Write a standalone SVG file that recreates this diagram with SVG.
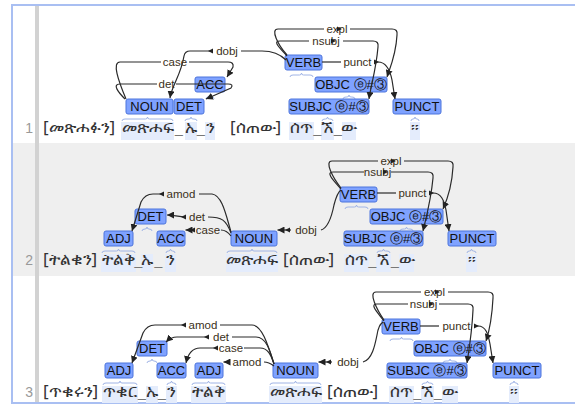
<svg xmlns="http://www.w3.org/2000/svg" xmlns:xlink="http://www.w3.org/1999/xlink" width="575" height="405" viewBox="0 0 575 405">
<style>
.frame{fill:none;stroke:#a9bff2;stroke-width:2}
.gut{fill:#d2d2d2}
.num{font-family:'Liberation Sans',Arial,sans-serif;font-size:14px;fill:#999;text-anchor:end}
.tok{font-family:'Noto Sans','DejaVu Sans',sans-serif;font-size:17px;fill:#333;text-anchor:middle}
.tokl{font-family:'Noto Sans','DejaVu Sans',sans-serif;font-size:17px;fill:#333}
.us{font-family:'Liberation Sans',sans-serif;font-size:14px;fill:#777;text-anchor:middle}
.tbg{fill:#e4ecfc}
.brace{fill:none;stroke:#a0b4e6;stroke-width:1}
.node rect{fill:#7fa2ff;stroke:#4d74dc;stroke-width:1}
.node text{font-family:'Liberation Sans',Arial,sans-serif;font-size:13px;fill:#111;text-anchor:middle}
.arc{fill:none;stroke:#2a2a2a;stroke-width:1.2}
.lbl{font-family:'Liberation Sans',Arial,sans-serif;font-size:11.5px;fill:#3a3020;text-anchor:middle}
.lm{fill:#222}
</style>
<defs>
<marker id="ah" markerUnits="userSpaceOnUse" markerWidth="8" markerHeight="7" refX="7" refY="3.5" orient="auto"><path d="M0,0 L7,3.5 L0,7 z" fill="#222"/></marker>
<path id="tl" d="M0,0 L5,-2.6 L5,2.6 z"/>
<path id="tr" d="M0,0 L-5,-2.6 L-5,2.6 z"/>
</defs>

<g id="background">
<rect x="12" y="143" width="563" height="133" fill="#efefef"/>
<rect class="gut" x="35" y="5" width="4" height="398"/>
<path class="frame" d="M575,5 H12 V403 H575"/>
</g>

<g id="tokens">
<text class="num" x="33" y="133">1</text>
<text class="num" x="33" y="265">2</text>
<text class="num" x="33" y="397">3</text>
<rect class="tbg" x="121" y="122" width="53" height="18"/>
<rect class="tbg" x="185" y="122" width="12" height="18"/>
<rect class="tbg" x="205" y="122" width="10" height="18"/>
<rect class="tbg" x="289" y="122" width="25" height="18"/>
<rect class="tbg" x="321" y="122" width="13" height="18"/>
<rect class="tbg" x="342" y="122" width="14" height="18"/>
<rect class="tbg" x="410" y="122" width="10" height="18"/>
<text class="tokl" x="43" y="133">[መጽሐፉን]</text>
<text class="tok" x="147.5" y="133">መጽሐፍ</text>
<text class="us" x="179" y="133">_</text>
<text class="tok" x="191" y="133">ኡ</text>
<text class="us" x="201" y="133">_</text>
<text class="tok" x="210" y="133">ን</text>
<text class="tokl" x="230" y="133">[ሰጠው]</text>
<text class="tok" x="301.5" y="133">ሰጥ</text>
<text class="us" x="317.5" y="133">_</text>
<text class="tok" x="327.5" y="133">ኧ</text>
<text class="us" x="338" y="133">_</text>
<text class="tok" x="349" y="133">ው</text>
<text class="tok" x="415" y="133">።</text>

<rect class="tbg" x="101" y="254" width="35" height="18"/>
<rect class="tbg" x="141" y="254" width="12" height="18"/>
<rect class="tbg" x="165" y="254" width="11" height="18"/>
<rect class="tbg" x="226" y="254" width="52" height="18"/>
<rect class="tbg" x="344" y="254" width="25" height="18"/>
<rect class="tbg" x="376" y="254" width="15" height="18"/>
<rect class="tbg" x="399" y="254" width="15" height="18"/>
<rect class="tbg" x="466" y="254" width="11" height="18"/>
<text class="tokl" x="43" y="265">[ትልቁን]</text>
<text class="tok" x="118.5" y="265">ትልቅ</text>
<text class="us" x="138.5" y="265">_</text>
<text class="tok" x="147" y="265">ኡ</text>
<text class="us" x="158.5" y="265">_</text>
<text class="tok" x="170.5" y="265">ን</text>
<text class="tok" x="252" y="265">መጽሐፍ</text>
<text class="tokl" x="283" y="265">[ሰጠው]</text>
<text class="tok" x="356.5" y="265">ሰጥ</text>
<text class="us" x="372.5" y="265">_</text>
<text class="tok" x="383.5" y="265">ኧ</text>
<text class="us" x="395" y="265">_</text>
<text class="tok" x="406.5" y="265">ው</text>
<text class="tok" x="471.5" y="265">።</text>

<rect class="tbg" x="102" y="386" width="36" height="17"/>
<rect class="tbg" x="146" y="386" width="12" height="17"/>
<rect class="tbg" x="166" y="386" width="11" height="17"/>
<rect class="tbg" x="191" y="386" width="35" height="17"/>
<rect class="tbg" x="269" y="386" width="53" height="17"/>
<rect class="tbg" x="389" y="386" width="25" height="17"/>
<rect class="tbg" x="421" y="386" width="13" height="17"/>
<rect class="tbg" x="442" y="386" width="16" height="17"/>
<rect class="tbg" x="509" y="386" width="10" height="17"/>
<text class="tokl" x="43" y="397">[ጥቁሩን]</text>
<text class="tok" x="120" y="397">ጥቁር</text>
<text class="us" x="142" y="397">_</text>
<text class="tok" x="152" y="397">ኡ</text>
<text class="us" x="162" y="397">_</text>
<text class="tok" x="171.5" y="397">ን</text>
<text class="tok" x="208.5" y="397">ትልቅ</text>
<text class="tok" x="295.5" y="397">መጽሐፍ</text>
<text class="tokl" x="327" y="397">[ሰጠው]</text>
<text class="tok" x="401.5" y="397">ሰጥ</text>
<text class="us" x="417.5" y="397">_</text>
<text class="tok" x="427.5" y="397">ኧ</text>
<text class="us" x="438" y="397">_</text>
<text class="tok" x="450" y="397">ው</text>
<text class="tok" x="514" y="397">።</text>
</g>

<g id="braces">
<path class="brace" d="M122,121 Q122,119 125,119 H145.5 Q147.5,119 147.5,117 Q147.5,119 149.5,119 H170 Q173,119 173,121"/>
<path class="brace" d="M185,121 Q185,119 188,119 H189 Q191,119 191,117 Q191,119 193,119 H194 Q197,119 197,121"/>
<path class="brace" d="M206,99 Q206,97 208,97 Q210,97 210,95 Q210,97 212,97 Q214,97 214,99"/>
<path class="brace" d="M290,77 Q290,75 293,75 H299.5 Q301.5,75 301.5,73 Q301.5,75 303.5,75 H310 Q313,75 313,77"/>
<path class="brace" d="M343,99 Q343,97 346,97 H347 Q349,97 349,95 Q349,97 351,97 H352 Q355,97 355,99"/>
<path class="brace" d="M322,121 Q322,119 325,119 H325.5 Q327.5,119 327.5,117 Q327.5,119 329.5,119 H330 Q333,119 333,121"/>
<path class="brace" d="M411,121 Q411,119 413,119 Q415,119 415,117 Q415,119 417,119 Q419,119 419,121"/>

<path class="brace" d="M102,253 Q102,251 105,251 H116.5 Q118.5,251 118.5,249 Q118.5,251 120.5,251 H132 Q135,251 135,253"/>
<path class="brace" d="M142,231 Q142,229 145,229 Q147,229 147,227 Q147,229 149,229 Q152,229 152,231"/>
<path class="brace" d="M166,253 Q166,251 168.5,251 Q170.5,251 170.5,249 Q170.5,251 172.5,251 Q175,251 175,253"/>
<path class="brace" d="M227,253 Q227,251 230,251 H250 Q252,251 252,249 Q252,251 254,251 H274 Q277,251 277,253"/>
<path class="brace" d="M345,209 Q345,207 348,207 H354.5 Q356.5,207 356.5,205 Q356.5,207 358.5,207 H365 Q368,207 368,209"/>
<path class="brace" d="M400,231 Q400,229 403,229 H404.5 Q406.5,229 406.5,227 Q406.5,229 408.5,229 H410 Q413,229 413,231"/>
<path class="brace" d="M377,253 Q377,251 380,251 H381.5 Q383.5,251 383.5,249 Q383.5,251 385.5,251 H387 Q390,251 390,253"/>
<path class="brace" d="M467,253 Q467,251 469.5,251 Q471.5,251 471.5,249 Q471.5,251 473.5,251 Q476,251 476,253"/>

<path class="brace" d="M103,385 Q103,383 106,383 H118 Q120,383 120,381 Q120,383 122,383 H134 Q137,383 137,385"/>
<path class="brace" d="M147,363 Q147,361 150,361 Q152,361 152,359 Q152,361 154,361 Q157,361 157,363"/>
<path class="brace" d="M167,385 Q167,383 169.5,383 Q171.5,383 171.5,381 Q171.5,383 173.5,383 Q176,383 176,385"/>
<path class="brace" d="M192,385 Q192,383 195,383 H206.5 Q208.5,383 208.5,381 Q208.5,383 210.5,383 H222 Q225,383 225,385"/>
<path class="brace" d="M270,385 Q270,383 273,383 H293.5 Q295.5,383 295.5,381 Q295.5,383 297.5,383 H318 Q321,383 321,385"/>
<path class="brace" d="M390,341 Q390,339 393,339 H399.5 Q401.5,339 401.5,337 Q401.5,339 403.5,339 H410 Q413,339 413,341"/>
<path class="brace" d="M443,363 Q443,361 446,361 H448 Q450,361 450,359 Q450,361 452,361 H454 Q457,361 457,363"/>
<path class="brace" d="M422,385 Q422,383 425,383 H425.5 Q427.5,383 427.5,381 Q427.5,383 429.5,383 H430 Q433,383 433,385"/>
<path class="brace" d="M510,385 Q510,383 512,383 Q514,383 514,381 Q514,383 516,383 Q518,383 518,385"/>
</g>

<g id="r1-noun" class="node"><rect x="126" y="99" width="47" height="15" rx="2"/><text x="149.5" y="111">NOUN</text></g>
<g id="r1-det" class="node"><rect x="174" y="99" width="30" height="15" rx="2"/><text x="189" y="111">DET</text></g>
<g id="r1-acc" class="node"><rect x="195" y="77" width="30" height="15" rx="2"/><text x="210" y="89">ACC</text></g>
<g id="r1-verb" class="node"><rect x="285" y="55" width="37" height="15" rx="2"/><text x="303.5" y="67">VERB</text></g>
<g id="r1-objc" class="node"><rect x="315" y="77" width="72" height="15" rx="2"/><text x="351" y="89">OBJC ⓔ#③</text></g>
<g id="r1-subjc" class="node"><rect x="289" y="99" width="80" height="15" rx="2"/><text x="329" y="111">SUBJC ⓔ#③</text></g>
<g id="r1-punct" class="node"><rect x="393" y="99" width="48" height="15" rx="2"/><text x="417" y="111">PUNCT</text></g>

<g id="r2-adj" class="node"><rect x="104" y="231" width="29" height="15" rx="2"/><text x="118.5" y="243">ADJ</text></g>
<g id="r2-det" class="node"><rect x="135" y="209" width="31" height="15" rx="2"/><text x="150.5" y="221">DET</text></g>
<g id="r2-acc" class="node"><rect x="157" y="231" width="28" height="15" rx="2"/><text x="171" y="243">ACC</text></g>
<g id="r2-noun" class="node"><rect x="231" y="231" width="46" height="15" rx="2"/><text x="254" y="243">NOUN</text></g>
<g id="r2-verb" class="node"><rect x="340" y="187" width="37" height="15" rx="2"/><text x="358.5" y="199">VERB</text></g>
<g id="r2-objc" class="node"><rect x="370" y="209" width="73" height="15" rx="2"/><text x="406.5" y="221">OBJC ⓔ#③</text></g>
<g id="r2-subjc" class="node"><rect x="344" y="231" width="79" height="15" rx="2"/><text x="383.5" y="243">SUBJC ⓔ#③</text></g>
<g id="r2-punct" class="node"><rect x="448" y="231" width="48" height="15" rx="2"/><text x="472" y="243">PUNCT</text></g>

<g id="r3-adj1" class="node"><rect x="105" y="363" width="28" height="15" rx="2"/><text x="119" y="375">ADJ</text></g>
<g id="r3-det" class="node"><rect x="137" y="341" width="30" height="15" rx="2"/><text x="152" y="353">DET</text></g>
<g id="r3-acc" class="node"><rect x="157" y="363" width="29" height="15" rx="2"/><text x="171.5" y="375">ACC</text></g>
<g id="r3-adj2" class="node"><rect x="195" y="363" width="28" height="15" rx="2"/><text x="209" y="375">ADJ</text></g>
<g id="r3-noun" class="node"><rect x="273" y="363" width="45" height="15" rx="2"/><text x="295.5" y="375">NOUN</text></g>
<g id="r3-verb" class="node"><rect x="382" y="319" width="38" height="15" rx="2"/><text x="401" y="331">VERB</text></g>
<g id="r3-objc" class="node"><rect x="414" y="341" width="72" height="15" rx="2"/><text x="450" y="353">OBJC ⓔ#③</text></g>
<g id="r3-subjc" class="node"><rect x="387" y="363" width="80" height="15" rx="2"/><text x="427" y="375">SUBJC ⓔ#③</text></g>
<g id="r3-punct" class="node"><rect x="493" y="363" width="48" height="15" rx="2"/><text x="517" y="375">PUNCT</text></g>

<g id="connectors">
<!-- row 1 -->
<path class="arc" d="M241,51 H262 C272,51 280,54 286,60"/>
<path class="arc" d="M212,51 H190 Q185,51 184,56 C181,75 172,85 170,98" marker-end="url(#ah)"/>
<text class="lbl" x="227" y="55">dobj</text><use class="lm" xlink:href="#tl" x="208" y="51"/>
<path class="arc" d="M126,99 C118,80 112,62 120,62 H161"/>
<path class="arc" d="M189,62 H228 Q234,62 233,67 L227,77" marker-end="url(#ah)"/>
<text class="lbl" x="175" y="66">case</text>
<path class="arc" d="M125,99 C118,92 112,84 120,84 H157"/>
<path class="arc" d="M176,84 H228 Q234,84 231,88 L206,99" marker-end="url(#ah)"/>
<text class="lbl" x="166.5" y="88">det</text>
<path class="arc" d="M287,55 C278,45 270,29 278,29 H324"/>
<path class="arc" d="M350,29 H392 Q398,29 397,35 C396,55 390,68 387,77" marker-end="url(#ah)"/>
<text class="lbl" x="337" y="33">expl</text><use class="lm" xlink:href="#tr" x="342" y="29"/>
<path class="arc" d="M287,56 C280,48 272,41 280,41 H309"/>
<path class="arc" d="M343,41 H373 Q379,41 378,47 C376,70 371,85 369,99" marker-end="url(#ah)"/>
<text class="lbl" x="326" y="45">nsubj</text><use class="lm" xlink:href="#tr" x="336" y="41"/>
<path class="arc" d="M322,62 H341"/>
<path class="arc" d="M374,62 H378 C386,62 390,70 392,80 L395,99" marker-end="url(#ah)"/>
<text class="lbl" x="357.5" y="66">punct</text><use class="lm" xlink:href="#tr" x="379" y="62"/>

<!-- row 2 -->
<path class="arc" d="M231,232 C226,215 222,195 212,194 H199"/>
<path class="arc" d="M164,194 H153 Q145,194 141,202 L132,231" marker-end="url(#ah)"/>
<text class="lbl" x="181" y="198">amod</text><use class="lm" xlink:href="#tl" x="159" y="194"/>
<path class="arc" d="M231,233 C226,220 222,217 208,217"/>
<path class="arc" d="M186,217 C178,217 174,215 167,215" marker-end="url(#ah)"/>
<text class="lbl" x="197" y="221">det</text><use class="lm" xlink:href="#tl" x="181" y="217"/>
<path class="arc" d="M231,236 C228,232 225,230 221,230"/>
<path class="arc" d="M195,230 H185.5" marker-end="url(#ah)"/>
<text class="lbl" x="208" y="234">case</text><use class="lm" xlink:href="#tl" x="190" y="230"/>
<path class="arc" d="M321,230 C328,228 332,215 334,205 C336,197 338,192 341,190"/>
<path class="arc" d="M291,230 H277.5" marker-end="url(#ah)"/>
<text class="lbl" x="306" y="234">dobj</text><use class="lm" xlink:href="#tl" x="285" y="230"/>
<path class="arc" d="M341,188 C333,178 324,161 332,161 H378"/>
<path class="arc" d="M404,161 H448 Q454,161 453,167 C452,185 447,200 443,209" marker-end="url(#ah)"/>
<text class="lbl" x="391" y="165">expl</text><use class="lm" xlink:href="#tr" x="396" y="161"/>
<path class="arc" d="M341,189 C334,181 325,172 333,172 H364"/>
<path class="arc" d="M391,172 H428 Q434,172 433,178 C431,200 426,218 423,231" marker-end="url(#ah)"/>
<text class="lbl" x="377.5" y="176">nsubj</text><use class="lm" xlink:href="#tr" x="388" y="172"/>
<path class="arc" d="M377,193 H396"/>
<path class="arc" d="M429,193 H433 C441,193 444,200 446,210 L449,231" marker-end="url(#ah)"/>
<text class="lbl" x="412.5" y="197">punct</text><use class="lm" xlink:href="#tr" x="434" y="193"/>

<!-- row 3 -->
<path class="arc" d="M274,364 C268,345 262,325 252,325 H220"/>
<path class="arc" d="M186,325 H155 Q147,325 143,333 L132,363" marker-end="url(#ah)"/>
<text class="lbl" x="203" y="329">amod</text><use class="lm" xlink:href="#tl" x="181" y="325"/>
<path class="arc" d="M274,364 C270,350 266,337 256,337 H232"/>
<path class="arc" d="M209,337 H177 C172,337 169,339 166,342" marker-end="url(#ah)"/>
<text class="lbl" x="221" y="341">det</text><use class="lm" xlink:href="#tl" x="204" y="337"/>
<path class="arc" d="M274,364 C271,355 268,348 260,348 H244"/>
<path class="arc" d="M218,348 H200 C192,348 188,354 186,363" marker-end="url(#ah)"/>
<text class="lbl" x="231" y="352">case</text><use class="lm" xlink:href="#tl" x="213" y="348"/>
<path class="arc" d="M274,366 C270,363 268,362 264,362"/>
<path class="arc" d="M230,362 H223.5" marker-end="url(#ah)"/>
<text class="lbl" x="247" y="366">amod</text><use class="lm" xlink:href="#tl" x="225" y="362"/>
<path class="arc" d="M363,362 C372,360 375,345 377,335 C378,328 380,324 383,322"/>
<path class="arc" d="M332,362 H318.5" marker-end="url(#ah)"/>
<text class="lbl" x="348" y="366">dobj</text><use class="lm" xlink:href="#tl" x="326" y="362"/>
<path class="arc" d="M384,320 C377,310 368,292 376,292 H421"/>
<path class="arc" d="M448,292 H488 Q494,292 493,298 C492,318 489,332 486,341" marker-end="url(#ah)"/>
<text class="lbl" x="434.5" y="296">expl</text><use class="lm" xlink:href="#tr" x="440" y="292"/>
<path class="arc" d="M384,321 C378,313 369,304 377,304 H408"/>
<path class="arc" d="M439,304 H468 Q474,304 473,310 C472,332 469,350 467,363" marker-end="url(#ah)"/>
<text class="lbl" x="423.5" y="308">nsubj</text><use class="lm" xlink:href="#tr" x="434" y="304"/>
<path class="arc" d="M420,326 H439"/>
<path class="arc" d="M474,326 H478 C486,326 488,334 490,344 L493,363" marker-end="url(#ah)"/>
<text class="lbl" x="456.5" y="330">punct</text><use class="lm" xlink:href="#tr" x="479" y="326"/>
</g>
</svg>
